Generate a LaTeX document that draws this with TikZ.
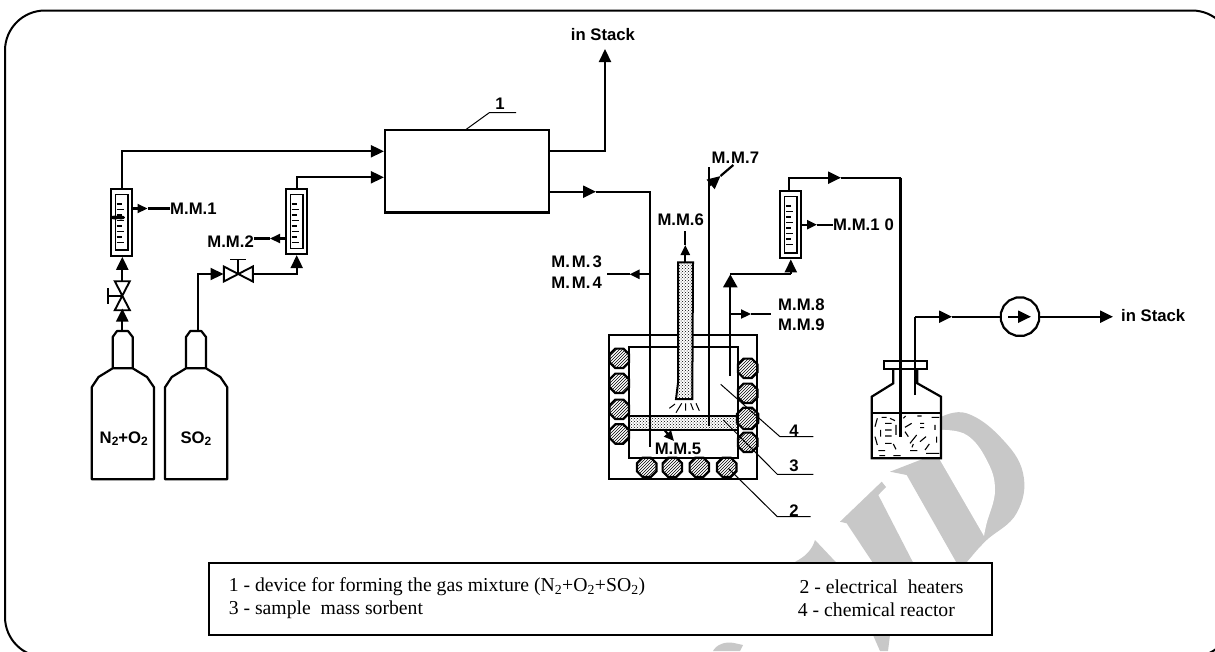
\documentclass[tikz,border=0pt]{standalone}
\usepackage{fontspec}
\setmainfont{Liberation Sans}
\newfontfamily\legendfont{Liberation Serif}
\usetikzlibrary{arrows.meta,patterns,shapes.geometric,calc}
\definecolor{wmark}{HTML}{C8C8C8}
\tikzset{
  x=1pt,y=-1pt,
  flow/.style={line width=2.2pt,line join=miter},
  thinl/.style={line width=1pt},
  bigh/.tip={Triangle[length=13pt,width=12pt]},
  hugeh/.tip={Triangle[length=13pt,width=14pt]},
  smallh/.tip={Triangle[length=10pt,width=9pt]},
  lab/.style={font=\fontsize{16.7}{18}\selectfont\bfseries,inner sep=0pt},
  legend/.style={font=\legendfont\fontsize{19.7}{22}\selectfont,inner sep=0pt,anchor=west},
  rotbox/.style={draw,fill=white,line width=2.2pt,inner sep=0pt},
  coil/.style={draw,line width=2.2pt,regular polygon,regular polygon sides=8,inner sep=0pt,minimum size=#1,pattern=north east lines},
  coil/.default=21pt,
}
\newcommand{\lowtwo}{\raisebox{-2.5pt}{\fontsize{12}{12}\selectfont 2}}
% name, centre x, top y, bottom y
\newcommand{\rotam}[4]{%
  \node[rotbox,minimum width=21pt,minimum height=#4pt-#3pt] (#1) at (#2,{(#3+#4)/2}) {};
  \node[draw,line width=1.6pt,fill=white,inner sep=0pt,minimum width=12.5pt,minimum height=#4pt-#3pt-11pt] (#1i) at (#2,{(#3+#4)/2}) {};
  \foreach \tk [count=\tn] in {0,...,7}
    \draw[line width=1.2pt] ({#2-5},{#3+15+\tk*5.5}) -- ({#2+(mod(\tn,2)==0?2.5:0.5)},{#3+15+\tk*5.5});
}
% top neck x, shift
\newcommand{\cylinder}[1]{%
  \draw[line width=2.2pt,fill=white,line join=round,shift={(#1,0)}]
    (91.7,479.3) -- (91.7,387.3) -- (98.5,377) -- (112.7,368.3) -- (112.7,337) -- (117,331) -- (128,331)
    -- (132.7,337) -- (132.7,368.3) -- (147,377) -- (154,387.3) -- (154,479.3) -- cycle
    (112.7,368.3) -- (132.7,368.3);
}
% centre x, y, rotation
\newcommand{\valve}[3]{%
  \begin{scope}[shift={(#1,#2)},rotate=#3]
    \draw[line width=1.9pt,fill=white,line join=miter] (-14.5,-7.5) -- (14.5,7.5) -- (14.5,-7.5) -- (-14.5,7.5) -- cycle;
    \draw[line width=1.9pt] (0,0) -- (0,-14.5) (-8,-14.5) -- (8,-14.5);
  \end{scope}
}
\begin{document}
\begin{tikzpicture}
\useasboundingbox (0,0) rectangle (1215,651);
\clip (0,0) rectangle (1215,651);
\fill[white] (0,0) rectangle (1215,651);
% watermark
\fill[wmark] plot[smooth,tension=.7] coordinates {(941.7,416.7)(966.7,413.3)(1000,436.7)(1023,473)(1016.7,513)(986.7,540)(972,556)}
  -- (966,563) -- (956.7,563) -- (906.7,475) -- (890,471.7) -- (933,455) -- (941,450) -- cycle;
\fill[white] plot[smooth,tension=.7] coordinates {(941,430)(966.7,435)(986.7,460)(995,490)(986.7,523)(984,536)} -- (940,460) -- cycle;
\fill[wmark] (840,521.7) -- (881.7,481.7) -- (886,487) -- (878.3,495) -- (913.3,563) -- (873,563) -- (846.7,523.3) -- cycle;
\fill[wmark] (795,561.7) .. controls (805,557) and (812,550) .. (815,540) -- (836.7,563) -- cycle;
\fill[wmark] (873,635) -- (890,635) -- (888,651) -- (880,651) -- cycle;
\fill[wmark] (713,651) .. controls (716,645) and (725,641) .. (734,643) -- (743,645) -- (740,651) -- cycle;
% frame
\draw[line width=2pt,rounded corners=40pt] (5,10.5) rectangle (1232,657);
% cylinders
\cylinder{0}
\cylinder{73.3}
\node[lab] (n2o2) at (123.8,438.5) {N\lowtwo+O\lowtwo};
\node[lab] (so2) at (196,438.5) {SO\lowtwo};
\coordinate (cyl1top) at (122.3,331);
\coordinate (cyl2top) at (198,331);
% rotameters
\rotam{rota}{121.7}{189}{255.7}
\rotam{rotb}{296.7}{189}{254}
\rotam{rotc}{790.8}{191}{258.3}
\fill (115,217.5) ellipse (5pt and 2pt) ++(6,0) ellipse (4pt and 2pt);
% main box
\node[draw,line width=2.2pt,fill=white,inner sep=0pt,minimum width=164pt,minimum height=82.5pt] (mixer) at (467,171.3) {};
% valves
\valve{122.3}{295.7}{90}
\valve{238.3}{274}{0}
\coordinate (va) at (122.3,295.7);
\coordinate (vb) at (238.3,274);
% left connectors
\coordinate (r1up) at (122.3,151.3);
\coordinate (r2up) at (296.7,177.3);
\draw[flow,-{bigh}] (rota.north -| r1up) -- (r1up) -- (r1up -| mixer.west);
\draw[flow,-{bigh}] (rotb.north) -- (r2up) -- (r2up -| mixer.west);
\draw[flow,-{bigh}] (cyl1top) -- (122.3,308.5);
\draw[flow,-{bigh}] (122.3,281.5) -- (rota.south -| va);
\coordinate (c2up) at (198,274);
\draw[flow,-{bigh}] (cyl2top) -- (c2up) -- (223.5,274);
\coordinate (v2r) at (253,274);
\draw[flow,-{bigh}] (v2r) -- (v2r -| rotb.south) -- (rotb.south);
% MM1, MM2
\node[lab,anchor=west] (mm1) at (170,209) {M.M.1};
\coordinate (mm1h) at (147.5,208.5);
\draw[flow,-{smallh}] (rota.east |- mm1h) -- (mm1h);
\draw[flow] (mm1h) -- (mm1.west |- mm1h);
\node[lab,anchor=east] (mm2) at (254,241.5) {M.M.2};
\coordinate (mm2h) at (270,238.5);
\draw[flow,-{smallh}] (rotb.west |- mm2h) -- (mm2h);
\draw[flow] (mm2h) -- (mm2.east |- mm2h);
% in stack top
\node[lab,anchor=center] (stacka) at (603,35) {in Stack};
\coordinate (up1) at (605,151.3);
\draw[flow,-{bigh}] (up1 -| mixer.east) -- (up1) -- (605,49);
\node[lab] (one) at (500,104) {1};
\draw[thinl] (466,129.5) -- (489.5,82.5+30) -- (516,112.5);
% reactor
\node[draw,line width=2.2pt,inner sep=0pt,minimum width=147.4pt,minimum height=144.3pt] (outer) at (683,407.2) {};
\node[draw,line width=2.2pt,inner sep=0pt,minimum width=109pt,minimum height=111pt] (inner) at (683.2,402.2) {};
\node[draw,line width=2.2pt,inner sep=0pt,minimum width=109pt,minimum height=14.3pt,pattern=crosshatch dots] (sorb) at (683.2,422.8) {};
\foreach \nm/\cx/\cy/\sz in {la/619.3/358.3/21,lb/619.3/383.3/21,lc/619.3/409.3/21,ld/619.3/434/21,
  ra/747.7/368.3/21,rb/747.7/393.3/21,rc/747.7/418.3/23,rd/747.7/442.3/21,
  ba/646.7/467.3/21,bb/672.3/467.3/21,bc/699.3/467.3/21,bd/726.7/467.3/21}
  \node[coil=\sz pt] (\nm) at (\cx,\cy) {};
% tube 1 to M.M.3/4
\coordinate (t1) at (649.8,191.7);
\draw[flow,-{bigh}] (t1 -| mixer.east) -- (596,191.7);
\draw[flow] (596,191.7) -- (t1) -- (649.8,446.7);
\node[lab,anchor=east] (mm3) at (602,261.5) {M.\kern2pt M.\kern2pt 3};
\node[lab,anchor=east] (mm4) at (602,282.5) {M.\kern2pt M.\kern2pt 4};
\coordinate (m3h) at (629.5,274.3);
\coordinate (m3e) at (606.7,274.3);
\draw[flow,-{smallh}] (649.8,274.3) -- (m3h);
\draw[flow] (m3h) -- (m3e);
% probe
\fill[white] (678,262.3) -- (693,262.3) -- (692.3,399) -- (676,399) -- (680,383) -- cycle;
\draw[line width=2pt,pattern=crosshatch dots] (678,262.3) -- (693,262.3) -- (692.3,399) -- (676,399) -- (678,383) -- cycle;
\coordinate (probetop) at (685.3,262.3);
\node[lab] (mm6) at (680.7,219.5) {M.M.6};
\coordinate (m6h) at (685.3,245);
\draw[flow,-{smallh}] (probetop) -- (m6h);
\draw[flow] (m6h) -- (685.3,230.7);
\draw[line width=1pt] (669.3,408.3) -- (675,404) (676,412.7) -- (681.7,403.3) (685.7,410.7) -- (685.7,403.3) (693.3,410) -- (690.7,403.3) (699.3,410.7) -- (696,403.3);
% tube M.M.7
\draw[flow] (709.3,167.3) -- (709.3,426);
\coordinate (m7h) at (720.5,176);
\draw[flow,-{bigh}] (709.3,185.5) -- (m7h);
\draw[flow] (m7h) -- (733.3,165);
\node[lab,anchor=west] (mm7) at (711.5,157.5) {M.\kern1pt M.7};
% outlet tube
\coordinate (o1) at (730.3,274.3);
\draw[flow,-{hugeh}] (730.3,376) -- (o1);
\draw[flow] (o1) -- (o1 -| rotc.south);
\draw[flow,-{bigh}] (o1 -| rotc.south) -- (rotc.south);
\node[lab,anchor=west] (mm8) at (778,304.5) {M.M.8};
\node[lab,anchor=west] (mm9) at (778,325) {M.M.9};
\coordinate (m8h) at (751,314);
\draw[flow,-{smallh}] (730.3,314) -- (m8h);
\draw[flow] (m8h) -- (771,314);
% M.M.5
\node[lab] (mm5) at (678,448.5) {M.M.5};
\draw[flow,-{smallh}] (665,430.7) -- (674,441);
% pointers
\node[lab] (four) at (794,431) {4};
\node[lab] (three) at (794,466) {3};
\node[lab] (two) at (794,511) {2};
\draw[thinl] (720.7,384.3) -- (780,436.7) -- (813.3,436.7);
\draw[thinl] (723.3,420) -- (777.3,474.3) -- (813.3,474.3);
\draw[thinl] (728.3,468.3) -- (777.3,516.7) -- (810.7,516.7);
% rot3 outlet
\coordinate (b1) at (789.3,177.7);
\coordinate (b2) at (900.5,177.7);
\draw[flow,-{bigh}] (rotc.north -| b1) -- (b1) -- (841,177.7);
\draw[flow] (841,177.7) -- (b2);
\node[lab,anchor=west] (mm10) at (833,225) {M.M.1\kern5pt 0};
\coordinate (m10h) at (817,224.7);
\draw[flow,-{smallh}] (rotc.east |- m10h) -- (m10h);
\draw[flow] (m10h) -- (mm10.west |- m10h);
% bottle
\draw[line width=2.2pt,fill=white,line join=miter] (893.3,369) -- (893.3,383.3) -- (871.7,396.7) -- (871.7,458.3) -- (941,458.3) -- (941,396.7) -- (917.3,383.3) -- (917.3,369);
\draw[line width=2.2pt] (871.7,413.3) -- (941,413.3);
\node[draw,line width=2.2pt,fill=white,inner sep=0pt,minimum width=43.3pt,minimum height=8pt] (cap) at (905.7,365) {};
\draw[flow] (b2) -- (900.5,437.3);
\begin{scope}[shift={(840,290)},x=0.3333pt,y=-0.3333pt]
\draw[line width=1.1pt] (105,410)--(112,385) (125,382)--(140,382) (150,385)--(165,392) (122,420)--(122,440) (135,400)--(155,400) (135,420)--(155,420) (135,438)--(155,438) (135,460)--(155,460) (168,405)--(168,435) (105,440)--(112,465) (160,462)--(168,478) (115,482)--(135,482) (118,497)--(135,497) (160,497)--(182,497) (190,385)--(197,378) (232,378)--(245,378) (275,382)--(298,382) (195,412)--(215,400) (240,400)--(252,400) (240,413)--(252,413) (195,425)--(205,440) (285,405)--(285,420) (290,440)--(290,458) (210,460)--(230,435) (240,455)--(258,440) (220,462)--(216,472) (255,480)--(268,462) (210,482)--(232,482) (258,490)--(298,490);
\end{scope}
% outlet to pump
\node[draw,line width=2.2pt,regular polygon,regular polygon sides=16,inner sep=0pt,minimum size=39pt] (pump) at (1020,316.7) {};
\coordinate (p0) at (915,316.7);
\draw[flow] (915,395) -- (p0);
\draw[flow,-{bigh}] (p0) -- (952,316.7);
\draw[flow] (952,316.7) -- (pump.west |- p0);
\coordinate (pa) at (1008,316.7);
\coordinate (pb) at (1031,316.7);
\draw[flow,-{bigh}] (pa) -- (pb);
\node[lab,anchor=west] (stackb) at (1121,316) {in Stack};
\draw[flow,-{bigh}] (pump.east |- p0) -- (1113,316.7);
% legend
\node[draw,line width=2pt,fill=white,inner sep=0pt,minimum width=783pt,minimum height=71.5pt] (lbox) at (600.5,599) {};
\node[legend] (lega) at (228.6,586.5) {1 - device for forming the gas mixture (N\textsubscript{2}+O\textsubscript{2}+SO\textsubscript{2})};
\node[legend] (legb) at (228.6,610) {3 - sample\ \ mass sorbent};
\node[legend] (legc) at (799.3,586.5) {2 - electrical\ \ heaters};
\node[legend] (legd) at (797.7,609.5) {4 - chemical reactor};
\end{tikzpicture}
\end{document}
